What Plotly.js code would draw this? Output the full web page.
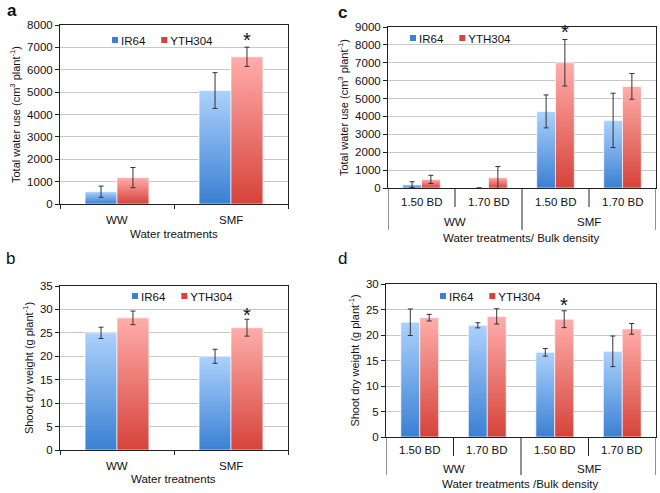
<!DOCTYPE html>
<html>
<head>
<meta charset="utf-8">
<script src="https://cdn.plot.ly/plotly-3.0.1.min.js"></script>
<style>
body { margin: 0; background: #fff; }
#chart { width: 660px; height: 493px; }
</style>
</head>
<body>
<div id="chart"></div>
<script>
// panel a / b: water treatments only
const treatments = ['WW', 'SMF'];
const twuIR64 = [550, 5070];
const twuIR64Err = [250, 800];
const twuYTH = [1180, 6580];
const twuYTHErr = [450, 430];
const sdwIR64 = [25.0, 20.0];
const sdwIR64Err = [1.2, 1.5];
const sdwYTH = [28.2, 26.1];
const sdwYTHErr = [1.45, 1.8];

// panel c / d: water treatment x bulk density
const density = ['1.50 BD', '1.70 BD', '1.50 BD', '1.70 BD'];
const densityGroup = ['WW', 'WW', 'SMF', 'SMF'];
const bdTwuIR64 = [190, 0, 4280, 3780];
const bdTwuIR64Err = [160, 0, 920, 1520];
const bdTwuYTH = [480, 580, 7000, 5680];
const bdTwuYTHErr = [230, 620, 1300, 720];
const bdSdwIR64 = [22.5, 21.9, 16.6, 16.8];
const bdSdwIR64Err = [2.6, 0.5, 0.75, 3.0];
const bdSdwYTH = [23.4, 23.65, 23.1, 21.2];
const bdSdwYTHErr = [0.65, 1.5, 1.65, 1.05];

// index of the starred (significant) YTH304 bar in each panel
const starA = 1, starB = 1, starC = 2, starD = 2;

const FONT = 'Liberation Sans, Arial, sans-serif';
const grads = {
    IR64: ['#acd1fc', '#3a80d3'],
    YTH304: ['#ffadab', '#d6433a']
};

const idx = density.map((d, i) => i);

function bars(name, x, y, err, xa, ya) {
    return {
        type: 'bar', name: name, x: x, y: y, xaxis: xa, yaxis: ya,
        showlegend: false,
        marker: { color: grads[name][1], line: { color: 'rgba(255,255,255,0.8)', width: 0.8 } },
        error_y: { type: 'data', array: err, color: '#333', thickness: 1, width: 2.5 },
        hoverinfo: 'x+y'
    };
}

function legendItem(name, xa, ya, lg) {
    return {
        type: 'scatter', mode: 'markers', name: name, x: [null], y: [null],
        xaxis: xa, yaxis: ya, legend: lg,
        marker: { symbol: 'square', size: 6, color: grads[name][1] }
    };
}

const data = [
    bars('IR64', treatments, twuIR64, twuIR64Err, 'x', 'y'),
    bars('YTH304', treatments, twuYTH, twuYTHErr, 'x', 'y'),
    bars('IR64', idx, bdTwuIR64, bdTwuIR64Err, 'x2', 'y2'),
    bars('YTH304', idx, bdTwuYTH, bdTwuYTHErr, 'x2', 'y2'),
    bars('IR64', treatments, sdwIR64, sdwIR64Err, 'x3', 'y3'),
    bars('YTH304', treatments, sdwYTH, sdwYTHErr, 'x3', 'y3'),
    bars('IR64', idx, bdSdwIR64, bdSdwIR64Err, 'x4', 'y4'),
    bars('YTH304', idx, bdSdwYTH, bdSdwYTHErr, 'x4', 'y4'),
    legendItem('IR64', 'x', 'y', 'legend'),
    legendItem('YTH304', 'x', 'y', 'legend'),
    legendItem('IR64', 'x2', 'y2', 'legend2'),
    legendItem('YTH304', 'x2', 'y2', 'legend2'),
    legendItem('IR64', 'x3', 'y3', 'legend3'),
    legendItem('YTH304', 'x3', 'y3', 'legend3'),
    legendItem('IR64', 'x4', 'y4', 'legend4'),
    legendItem('YTH304', 'x4', 'y4', 'legend4')
];

const W = 660, H = 493;
function px(a, b) { return [a / W, b / W]; }
function py(top, bottom) { return [(H - bottom) / H, (H - top) / H]; }

function catAxis(domain, anchor) {
    return {
        domain: domain, anchor: anchor, type: 'category',
        showline: true, linecolor: '#222', linewidth: 1, mirror: true,
        ticks: 'outside', tickson: 'boundaries', ticklen: 4, tickcolor: '#222',
        showticklabels: false, showgrid: false, fixedrange: true
    };
}

function numXAxis(domain, anchor) {
    return {
        domain: domain, anchor: anchor, range: [-0.5, density.length - 0.5],
        showline: true, linecolor: '#222', linewidth: 1, mirror: true,
        ticks: '', showticklabels: false, zeroline: false,
        showgrid: false, fixedrange: true
    };
}

function valAxis(domain, anchor, max, step, title) {
    return {
        domain: domain, anchor: anchor, range: [0, max], dtick: step,
        showline: true, linecolor: '#222', linewidth: 1, mirror: true,
        ticks: 'outside', ticklen: 4, tickcolor: '#222',
        showgrid: true, gridcolor: '#c8c8c8', gridwidth: 1, zeroline: false,
        tickfont: { family: FONT, size: 11.5, color: '#111' }, fixedrange: true,
        title: { text: title, font: { family: FONT, size: 11, color: '#111' }, standoff: 4 }
    };
}

const twuTitle = 'Total water use (cm<sup>3</sup> plant<sup>-1</sup>)';
const sdwTitle = 'Shoot dry weight (g plant<sup>-1</sup>)';

function legendBox(x, y) {
    return {
        orientation: 'h', x: x, y: y, xanchor: 'left', yanchor: 'middle',
        bgcolor: 'rgba(0,0,0,0)', font: { family: FONT, size: 11.5, color: '#111' },
        itemclick: false, itemdoubleclick: false
    };
}

// table-like divider lines under the density axes
function dividers(xa, ya, shortDepth, longDepth) {
    const out = [];
    for (let i = 0; i <= density.length; i++) {
        const xb = i - 0.5;
        const edge = i === 0 || i === density.length || densityGroup[i] !== densityGroup[i - 1];
        out.push({
            type: 'line', xref: xa, yref: ya + ' domain', x0: xb, x1: xb,
            y0: 0, y1: edge ? longDepth : shortDepth,
            line: { color: '#222', width: 1 }
        });
    }
    return out;
}

function axisLabel(xa, ya, x, yPos, text) {
    return {
        xref: xa, yref: ya + ' domain', x: x, y: yPos, text: text,
        showarrow: false, xanchor: 'center', yanchor: 'middle',
        font: { family: FONT, size: 11.5, color: '#111' }
    };
}

function tickLabels(xa, ya, cats, xs, yPos) {
    return cats.map((c, i) => axisLabel(xa, ya, xs[i], yPos, c));
}

function groupLabels(xa, ya, yPos) {
    const groups = [...new Set(densityGroup)];
    return groups.map(g => {
        const pos = idx.filter(i => densityGroup[i] === g);
        return axisLabel(xa, ya, pos.reduce((s, v) => s + v, 0) / pos.length, yPos, g);
    });
}

function star(xa, ya, x, y, shift, yshift) {
    return {
        xref: xa, yref: ya, x: x, y: y, xshift: shift, yshift: yshift,
        text: '*', showarrow: false, xanchor: 'center', yanchor: 'bottom',
        font: { family: FONT, size: 20, color: '#111' }
    };
}

function letter(text, x, y, bold) {
    return {
        xref: 'paper', yref: 'paper', x: x / W, y: (H - y) / H, text: bold ? '<b>' + text + '</b>' : text,
        showarrow: false, xanchor: 'left', yanchor: 'middle',
        font: { family: FONT, size: 17, color: '#111' }
    };
}

function paperText(text, x, y) {
    return {
        xref: 'paper', yref: 'paper', x: x / W, y: (H - y) / H, text: text,
        showarrow: false, xanchor: 'center', yanchor: 'middle',
        font: { family: FONT, size: 11.5, color: '#111' }
    };
}

const layout = {
    width: W, height: H,
    margin: { l: 0, r: 0, t: 0, b: 0 },
    paper_bgcolor: '#fff', plot_bgcolor: '#fff',
    barmode: 'group', bargap: 0.44, bargroupgap: 0,
    font: { family: FONT, color: '#111' },
    xaxis: catAxis(px(60, 288), 'y'),
    yaxis: valAxis(py(25, 204), 'x', 8000, 1000, twuTitle),
    xaxis2: numXAxis(px(388, 656), 'y2'),
    yaxis2: valAxis(py(27, 188), 'x2', 9000, 1000, twuTitle),
    xaxis3: catAxis(px(60, 288), 'y3'),
    yaxis3: valAxis(py(286, 450), 'x3', 35, 5, sdwTitle),
    xaxis4: numXAxis(px(386, 656), 'y4'),
    yaxis4: valAxis(py(284, 437), 'x4', 30, 5, sdwTitle),
    legend: legendBox(95 / W, (H - 40) / H),
    legend2: legendBox(393 / W, (H - 38) / H),
    legend3: legendBox(115 / W, (H - 296) / H),
    legend4: legendBox(423 / W, (H - 296) / H),
    shapes: [].concat(
        dividers('x2', 'y2', -0.118, -0.26),
        dividers('x4', 'y4', -0.124, -0.248)
    ),
    annotations: [].concat(
        tickLabels('x', 'y', treatments, treatments, -0.089),
        tickLabels('x3', 'y3', treatments, treatments, -0.098),
        tickLabels('x2', 'y2', density, idx, -0.087),
        tickLabels('x4', 'y4', density, idx, -0.085),
        groupLabels('x2', 'y2', -0.211),
        groupLabels('x4', 'y4', -0.209),
        [
            paperText('Water treatments', 174, 234),
            paperText('Water treatnents', 174, 479),
            paperText('Water treatments/ Bulk density', 521, 238),
            paperText('Water treatments /Bulk density', 520, 484),
            star('x', 'y', treatments[starA], twuYTH[starA] + twuYTHErr[starA], 16, -6),
            star('x3', 'y3', treatments[starB], sdwYTH[starB] + sdwYTHErr[starB], 16, -9),
            star('x2', 'y2', idx[starC] + 0.14, bdTwuYTH[starC] + bdTwuYTHErr[starC], 0, -5),
            star('x4', 'y4', idx[starD] + 0.14, bdSdwYTH[starD] + bdSdwYTHErr[starD], 0, -7),
            letter('a', 5, 11, true),
            letter('c', 336, 12, true),
            letter('b', 4, 258, false),
            letter('d', 336, 258, false)
        ]
    )
};

function addGradients(gd) {
    const ns = 'http://www.w3.org/2000/svg';
    const svg = gd.querySelector('.main-svg');
    let defs = svg.querySelector('defs');
    if (!defs) {
        defs = document.createElementNS(ns, 'defs');
        svg.insertBefore(defs, svg.firstChild);
    }
    if (!defs.querySelector('#grad-IR64')) {
        Object.keys(grads).forEach(name => {
            const g = document.createElementNS(ns, 'linearGradient');
            g.setAttribute('id', 'grad-' + name);
            g.setAttribute('x1', '0'); g.setAttribute('y1', '0');
            g.setAttribute('x2', '0'); g.setAttribute('y2', '1');
            grads[name].forEach((c, i) => {
                const s = document.createElementNS(ns, 'stop');
                s.setAttribute('offset', i === 0 ? '0' : '1');
                s.setAttribute('stop-color', c);
                g.appendChild(s);
            });
            defs.appendChild(g);
        });
    }
    gd.querySelectorAll('.barlayer .trace').forEach(tr => {
        const t = tr.__data__ && tr.__data__[0] && tr.__data__[0].trace;
        if (!t || !grads[t.name]) return;
        tr.querySelectorAll('.point path').forEach(p => {
            p.style.fill = 'url(#grad-' + t.name + ')';
        });
    });
}

// pull legend text close to its square, like the original figure
// (legend2.. use class "legend2text" etc, so just take the item's <text>)
function tightenLegends(gd) {
    const boxes = new Map();
    gd.querySelectorAll('.traces').forEach(tr => {
        const box = tr.parentNode;
        if (!boxes.has(box)) boxes.set(box, []);
        boxes.get(box).push(tr);
    });
    boxes.forEach(items => {
        let x = null;
        items.forEach(tr => {
            const text = tr.querySelector('text');
            if (!text) return;
            text.setAttribute('x', 26);
            const m = /translate\(([-\d.]+)[ ,]+([-\d.]+)\)/.exec(tr.getAttribute('transform') || '');
            const ty = m ? +m[2] : 0;
            if (x === null) x = m ? +m[1] : 0;
            tr.setAttribute('transform', 'translate(' + x + ',' + ty + ')');
            x += text.getComputedTextLength() + 25;
        });
    });
}

function finish(gd) {
    addGradients(gd);
    tightenLegends(gd);
}

Plotly.newPlot('chart', data, layout, { displayModeBar: false, staticPlot: true })
    .then(gd => {
        finish(gd);
        gd.on('plotly_afterplot', () => finish(gd));
    });
</script>
</body>
</html>
